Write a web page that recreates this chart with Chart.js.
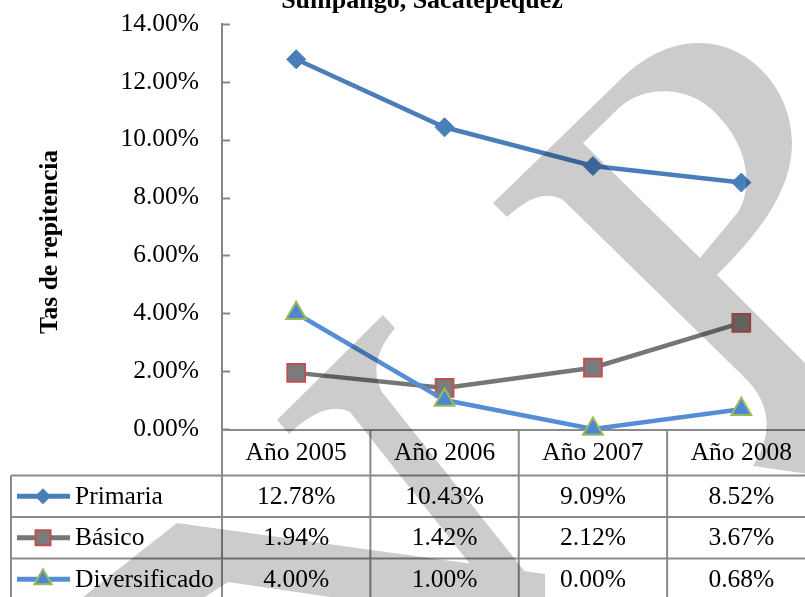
<!DOCTYPE html>
<html><head><meta charset="utf-8">
<script src="https://cdn.jsdelivr.net/npm/chart.js@4"></script>
<style>html,body{margin:0;padding:0;overflow:hidden;background:#fff;width:805px;height:597px}#wrap{width:830px;height:597px}canvas{display:block}</style>
</head><body>
<div id="wrap"><canvas id="c" width="830" height="597"></canvas></div>
<script>
const chartTitle = 'Sumpango, Sacatepéquez';
const yAxisTitle = 'Tas de repitencia';
const categories = ['Año 2005', 'Año 2006', 'Año 2007', 'Año 2008'];
const seriesNames = ['Primaria', 'Básico', 'Diversificado'];
const primaria = [12.78, 10.43, 9.09, 8.52];
const basico = [1.94, 1.42, 2.12, 3.67];
const diversificado = [4.00, 1.00, 0.00, 0.68];
const yTicks = [0, 2, 4, 6, 8, 10, 12, 14];

const FAMILY = '"Liberation Serif", "Times New Roman", serif';
const FS = 25.5;
const GRID = '#8A8A8A';
const fmt = v => v.toFixed(2) + '%';

function marker(ctx, style, x, y, r, fill, stroke, bw) {
  ctx.save();
  ctx.beginPath();
  if (style === 'rectRot') {
    ctx.moveTo(x, y - r); ctx.lineTo(x + r, y); ctx.lineTo(x, y + r); ctx.lineTo(x - r, y); ctx.closePath();
  } else if (style === 'rect') {
    ctx.rect(x - r, y - r, 2 * r, 2 * r);
  } else {
    const h = r * Math.sqrt(3) / 2;
    ctx.moveTo(x, y - r); ctx.lineTo(x + h, y + r / 2); ctx.lineTo(x - h, y + r / 2); ctx.closePath();
  }
  ctx.fillStyle = fill; ctx.fill();
  if (bw) { ctx.lineWidth = bw; ctx.strokeStyle = stroke; ctx.stroke(); }
  ctx.restore();
}

const decor = {
  id: 'decor',
  beforeDatasetsDraw(chart) {
    const ctx = chart.ctx, xs = chart.scales.x, ys = chart.scales.y, ca = chart.chartArea;
    const W = chart.width;
    ctx.save();
    ctx.strokeStyle = '#868686'; ctx.lineWidth = 2;
    yTicks.forEach(v => {
      const y = Math.round(ys.getPixelForValue(v)) + 0.5;
      ctx.beginPath(); ctx.moveTo(ca.left, y); ctx.lineTo(ca.left + 8, y); ctx.stroke();
    });
    const half = (xs.getPixelForValue(1) - xs.getPixelForValue(0)) / 2;
    const hTop = ca.bottom + 1, hBot = hTop + 45.5, rowH = 41.5, tableLeft = 11;
    const rows = [primaria, basico, diversificado];
    ctx.strokeStyle = GRID; ctx.lineWidth = 2;
    ctx.beginPath(); ctx.moveTo(ca.left, hTop); ctx.lineTo(W, hTop); ctx.stroke();
    for (let r = 0; r <= rows.length; r++) {
      const y = hBot + r * rowH;
      ctx.beginPath(); ctx.moveTo(tableLeft, y); ctx.lineTo(W, y); ctx.stroke();
    }
    ctx.beginPath(); ctx.moveTo(tableLeft, hBot); ctx.lineTo(tableLeft, chart.height); ctx.stroke();
    for (let i = 0; i <= categories.length; i++) {
      const x = xs.getPixelForValue(0) - half + i * 2 * half;
      ctx.beginPath(); ctx.moveTo(x, hTop); ctx.lineTo(x, chart.height); ctx.stroke();
    }
    ctx.fillStyle = '#000';
    ctx.font = FS + 'px ' + FAMILY;
    ctx.textAlign = 'center'; ctx.textBaseline = 'middle';
    categories.forEach((c, i) => ctx.fillText(c, xs.getPixelForValue(i), (hTop + hBot) / 2 + 1));
    rows.forEach((vals, r) => {
      const yc = hBot + r * rowH + rowH / 2 + 1;
      vals.forEach((v, i) => ctx.fillText(fmt(v), xs.getPixelForValue(i), yc));
    });
    const ds = chart.data.datasets;
    const keySizes = [7.5, 7.5, 10];
    ds.forEach((d, r) => {
      const yc = hBot + r * rowH + rowH / 2;
      ctx.strokeStyle = d.borderColor; ctx.lineWidth = 5;
      ctx.beginPath(); ctx.moveTo(17, yc); ctx.lineTo(70, yc); ctx.stroke();
      marker(ctx, d.pointStyle, 43, yc, keySizes[r], d.pointBackgroundColor, d.pointBorderColor, d.pointBorderWidth);
      ctx.fillStyle = '#000'; ctx.textAlign = 'left';
      ctx.fillText(seriesNames[r], 75, yc + 1);
    });
    ctx.font = 'bold 26px ' + FAMILY;
    ctx.textAlign = 'center'; ctx.textBaseline = 'alphabetic';
    ctx.fillText(chartTitle, 422, 8);
    ctx.save();
    ctx.translate(50, 242); ctx.rotate(-Math.PI / 2);
    ctx.textBaseline = 'middle';
    ctx.font = 'bold ' + FS + 'px ' + FAMILY;
    ctx.fillText(yAxisTitle, 0, 0);
    ctx.restore();
    ctx.restore();
  },
  afterDraw(chart) {
    const ctx = chart.ctx;
    ctx.save();
    ctx.globalCompositeOperation = 'multiply';
    ctx.fillStyle = '#CCCCCC';
    const p = new Path2D();
    p.moveTo(493, 203); p.lineTo(623, 77);
    p.bezierCurveTo(650, 52, 675, 43, 700, 43);
    p.bezierCurveTo(748, 43, 792, 88, 792, 143);
    p.bezierCurveTo(792, 195, 752, 240, 717, 275);
    p.lineTo(850, 408); p.lineTo(850, 480); p.lineTo(753, 466);
    p.quadraticCurveTo(785, 415, 742, 375);
    p.lineTo(563, 200);
    p.quadraticCurveTo(540, 186, 507, 217);
    p.closePath();
    p.moveTo(583, 143); p.lineTo(620, 107);
    p.bezierCurveTo(645, 85, 692, 84, 720, 118);
    p.bezierCurveTo(750, 150, 752, 190, 738, 212);
    p.lineTo(700, 258); p.closePath();
    ctx.fill(p, 'evenodd');
    const q = new Path2D();
    q.moveTo(277, 420); q.lineTo(383, 315); q.lineTo(395, 328);
    q.quadraticCurveTo(366, 362, 382, 392);
    q.lineTo(545, 597); q.lineTo(496, 597); q.lineTo(350, 412);
    q.quadraticCurveTo(325, 400, 289, 434); q.closePath();
    q.moveTo(83, 597); q.lineTo(177, 523); q.lineTo(545, 574); q.lineTo(545, 597);
    q.lineTo(330, 597); q.lineTo(228, 582); q.lineTo(205, 597); q.closePath();
    ctx.fill(q, 'nonzero');
    ctx.restore();
  }
};

const chart = new Chart(document.getElementById('c'), {
  type: 'line',
  data: {
    labels: categories,
    datasets: [
      { label: seriesNames[0], data: primaria, borderColor: '#4A7EBB', borderWidth: 4.5,
        pointStyle: 'rectRot', pointRadius: 9.5, pointBackgroundColor: '#4A7EBB', pointBorderColor: '#4A7EBB', pointBorderWidth: 1,
        tension: 0, clip: false, order: 0 },
      { label: seriesNames[1], data: basico, borderColor: '#767676', borderWidth: 4.5,
        pointStyle: 'rect', pointRadius: 12.5, pointBackgroundColor: '#7B7B7B', pointBorderColor: '#C0504D', pointBorderWidth: 2,
        tension: 0, clip: false, order: 2 },
      { label: seriesNames[2], data: diversificado, borderColor: '#558ED5', borderWidth: 4.5,
        pointStyle: 'triangle', pointRadius: 11.5, pointBackgroundColor: '#4F86D3', pointBorderColor: '#9BBB59', pointBorderWidth: 2,
        tension: 0, clip: false, order: 1 }
    ]
  },
  options: {
    responsive: false, maintainAspectRatio: false, animation: false, devicePixelRatio: 1,
    layout: { padding: { top: 24, bottom: 168, left: 0, right: 0 } },
    plugins: { legend: { display: false }, tooltip: { enabled: false }, title: { display: false } },
    scales: {
      x: { type: 'category', offset: true, display: false },
      y: {
        min: 0, max: 14,
        afterFit: s => { s.width = 222; },
        afterBuildTicks: s => { s.ticks = yTicks.map(v => ({ value: v })); },
        ticks: { padding: 0, color: '#000', font: { family: FAMILY, size: FS }, callback: v => fmt(v) },
        grid: { display: false, drawTicks: true, tickLength: 23 },
        border: { display: true, color: '#868686', width: 2 }
      }
    }
  },
  plugins: [decor]
});
</script>
</body></html>
